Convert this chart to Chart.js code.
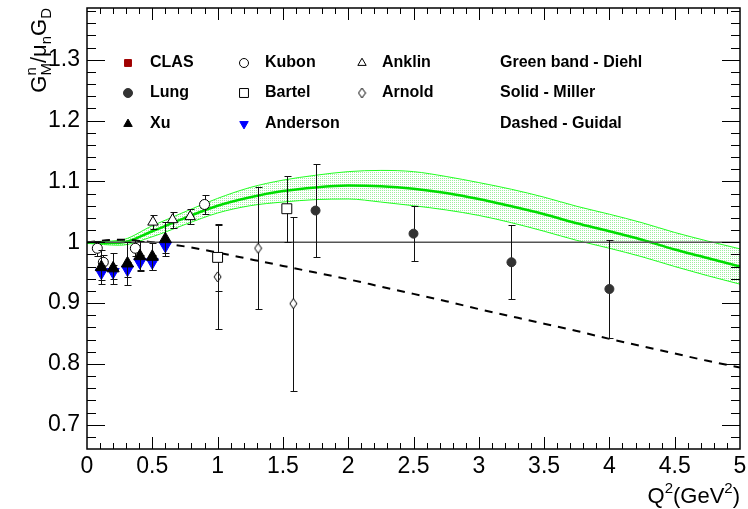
<!DOCTYPE html>
<html>
<head>
<meta charset="utf-8">
<script src="https://cdn.jsdelivr.net/npm/chart.js@4.4.0/dist/chart.umd.min.js"></script>
<style>
  html, body { margin: 0; padding: 0; background: #fff; }
  #wrap { width: 748px; height: 509px; }
</style>
</head>
<body>
<div id="wrap"><canvas id="grafico" width="748" height="509"></canvas></div>
<script>
const FONT = "'Liberation Sans', Arial, Helvetica, sans-serif";

// tick labels
const xTicks = [0, 0.5, 1, 1.5, 2, 2.5, 3, 3.5, 4, 4.5, 5];
const yTicks = [0.7, 0.8, 0.9, 1.0, 1.1, 1.2, 1.3];

// theory curves
const curveQ2   = [0, 0.25, 0.5, 0.75, 1, 1.25, 1.5, 1.75, 2, 2.25, 2.5, 2.75, 3, 3.25, 3.5, 3.75, 4, 4.25, 4.5, 4.75, 5];
const millerG   = [1.000, 0.999, 1.018, 1.040, 1.060, 1.074, 1.084, 1.090, 1.093, 1.092, 1.088, 1.081, 1.071, 1.059, 1.046, 1.031, 1.018, 1.004, 0.988, 0.974, 0.960];
const diehlHigh = [1.001, 1.003, 1.027, 1.050, 1.072, 1.090, 1.102, 1.110, 1.116, 1.118, 1.116, 1.108, 1.098, 1.087, 1.074, 1.059, 1.046, 1.032, 1.016, 1.002, 0.989];
const diehlLow  = [0.998, 0.995, 1.009, 1.029, 1.048, 1.060, 1.066, 1.070, 1.071, 1.066, 1.060, 1.053, 1.044, 1.032, 1.018, 1.003, 0.990, 0.976, 0.960, 0.945, 0.931];
const guidalG   = [1.000, 1.004, 1.000, 0.993, 0.983, 0.972, 0.961, 0.950, 0.939, 0.927, 0.915, 0.903, 0.890, 0.878, 0.866, 0.854, 0.841, 0.829, 0.817, 0.805, 0.794];
const refQ2 = [0, 5];
const refG  = [1, 1];

// measurements
const clasQ2 = [];
const clasG = [];
const clasErr = [];

const lungQ2  = [1.75, 2.5, 3.25, 4.0];
const lungG   = [1.052, 1.014, 0.967, 0.923];
const lungErr = [0.077, 0.045, 0.061, 0.081];

const xuQ2  = [0.11, 0.2, 0.31, 0.405, 0.5, 0.6];
const xuG   = [0.959, 0.957, 0.965, 0.977, 0.976, 1.005];
const xuErr = [0.028, 0.026, 0.035, 0.025, 0.022, 0.028];

const kubonQ2  = [0.079, 0.125, 0.37, 0.9];
const kubonG   = [0.990, 0.967, 0.990, 1.062];
const kubonErr = [0.012, 0.012, 0.013, 0.016];

const bartelQ2  = [1.0, 1.53];
const bartelG   = [0.975, 1.055];
const bartelErr = [0.055, 0.054];

const andersonQ2  = [0.11, 0.2, 0.31, 0.405, 0.5, 0.6];
const andersonG   = [0.950, 0.951, 0.955, 0.967, 0.967, 0.994];
const andersonErr = [0.012, 0.012, 0.012, 0.012, 0.012, 0.012];

const anklinQ2  = [0.505, 0.655, 0.79];
const anklinG   = [1.033, 1.037, 1.042];
const anklinErr = [0.011, 0.013, 0.012];

const arnoldQ2  = [1.0, 1.31, 1.58];
const arnoldG   = [0.943, 0.990, 0.899];
const arnoldErr = [0.086, 0.100, 0.143];

const pts = (xs, ys) => xs.map((x, i) => ({ x: x, y: ys[i] }));

function diamondMark(w, h) {
    const c = document.createElement('canvas');
    c.width = w + 2;
    c.height = h + 2;
    const g = c.getContext('2d');
    g.beginPath();
    g.moveTo(c.width / 2, 1);
    g.lineTo(c.width - 1, c.height / 2);
    g.lineTo(c.width / 2, c.height - 1);
    g.lineTo(1, c.height / 2);
    g.closePath();
    g.fillStyle = '#fff';
    g.fill();
    g.strokeStyle = '#000';
    g.lineWidth = 1;
    g.stroke();
    return c;
}

// dotted fill for the Diehl band
function dotPattern() {
    const c = document.createElement('canvas');
    c.width = 2;
    c.height = 2;
    const g = c.getContext('2d');
    g.fillStyle = 'rgba(0, 210, 0, 0.38)';
    g.fillRect(0, 0, 1, 1);
    return g.createPattern(c, 'repeat');
}

function markerSet(label, xs, ys, errs, style) {
    return Object.assign({
        label: label,
        data: pts(xs, ys),
        errors: errs,
        showLine: false,
        pointBorderWidth: 1
    }, style);
}

const sXu       = { pointStyle: 'triangle', pointRadius: 7, pointBackgroundColor: '#000', pointBorderColor: '#000' };
const sAnderson = { pointStyle: 'triangle', pointRotation: 180, pointRadius: 7, pointBackgroundColor: '#0000ff', pointBorderColor: '#0000ff' };
const sLung     = { pointStyle: 'circle', pointRadius: 4.5, pointBackgroundColor: '#333', pointBorderColor: '#333' };
const sKubon    = { pointStyle: 'circle', pointRadius: 5, pointBackgroundColor: '#fff', pointBorderColor: '#000' };
const sBartel   = { pointStyle: 'rect', pointRadius: 7, pointBackgroundColor: '#fff', pointBorderColor: '#000' };
const sAnklin   = { pointStyle: 'triangle', pointRadius: 6, pointBackgroundColor: '#fff', pointBorderColor: '#000' };
const sArnold   = { pointStyle: diamondMark(7, 10), pointRadius: 5, pointBackgroundColor: '#fff', pointBorderColor: '#000' };
const sClas     = { pointStyle: 'rect', pointRadius: 6.5, pointBackgroundColor: '#a00000', pointBorderColor: '#a00000' };

// error bars under each marker set
const errorBars = {
    id: 'errorBars',
    beforeDatasetDraw(chart, args) {
        const ds = chart.data.datasets[args.index];
        if (!ds.errors || !ds.errors.length) return;
        const { ctx, chartArea } = chart;
        const sx = chart.scales.x, sy = chart.scales.y;
        ctx.save();
        ctx.beginPath();
        ctx.rect(chartArea.left, chartArea.top, chartArea.right - chartArea.left, chartArea.bottom - chartArea.top);
        ctx.clip();
        ctx.strokeStyle = '#111';
        ctx.lineWidth = 1;
        ds.data.forEach((p, i) => {
            const e = ds.errors[i];
            const px = Math.round(sx.getPixelForValue(p.x)) + 0.5;
            const y1 = Math.round(sy.getPixelForValue(p.y + e)) + 0.5;
            const y2 = Math.round(sy.getPixelForValue(p.y - e)) + 0.5;
            ctx.beginPath();
            ctx.moveTo(px, y1); ctx.lineTo(px, y2);
            ctx.moveTo(px - 3, y1); ctx.lineTo(px + 4, y1);
            ctx.moveTo(px - 3, y2); ctx.lineTo(px + 4, y2);
            ctx.stroke();
        });
        ctx.restore();
    }
};

// frame with inside ticks on all four sides
const frame = {
    id: 'frame',
    afterDatasetsDraw(chart) {
        const { ctx, chartArea: a } = chart;
        const sx = chart.scales.x, sy = chart.scales.y;
        ctx.save();
        ctx.strokeStyle = '#000';
        ctx.lineWidth = 1;
        ctx.beginPath();
        for (let i = 1; i < 50; i++) {
            const v = i / 10;
            const px = Math.round(sx.getPixelForValue(v)) + 0.5;
            const len = (i % 5 === 0) ? 12 : 6;
            ctx.moveTo(px, a.bottom); ctx.lineTo(px, a.bottom - len);
            ctx.moveTo(px, a.top); ctx.lineTo(px, a.top + len);
        }
        for (let i = 34; i <= 69; i++) {
            const v = i / 50;
            const py = Math.round(sy.getPixelForValue(v)) + 0.5;
            if (py <= a.top + 1 || py >= a.bottom - 1) continue;
            const len = (i % 5 === 0) ? 18 : 9;
            ctx.moveTo(a.left, py); ctx.lineTo(a.left + len, py);
            ctx.moveTo(a.right, py); ctx.lineTo(a.right - len, py);
        }
        ctx.stroke();
        ctx.lineWidth = 1.5;
        ctx.strokeRect(a.left, a.top, a.right - a.left, a.bottom - a.top);
        ctx.restore();
    }
};

function drawPieces(ctx, pieces, measureOnly) {
    let x = 0;
    pieces.forEach(p => {
        if (p.stack) {
            let w = 0;
            p.stack.forEach(q => {
                ctx.font = q.size + 'px ' + FONT;
                if (!measureOnly) ctx.fillText(q.t, x, q.dy);
                w = Math.max(w, ctx.measureText(q.t).width);
            });
            x += w;
        } else {
            ctx.font = p.size + 'px ' + FONT;
            if (!measureOnly) ctx.fillText(p.t, x, p.dy || 0);
            x += ctx.measureText(p.t).width;
        }
    });
    return x;
}

const titles = {
    id: 'titles',
    afterDraw(chart) {
        const ctx = chart.ctx;
        const a = chart.chartArea;
        ctx.save();
        ctx.fillStyle = '#000';
        ctx.textBaseline = 'alphabetic';
        ctx.textAlign = 'left';

        const yPieces = [
            { t: 'G', size: 22 },
            { stack: [{ t: 'n', size: 15, dy: -10 }, { t: 'M', size: 15, dy: 5 }] },
            { t: '/', size: 22 },
            { t: 'μ', size: 22 },
            { t: 'n', size: 15, dy: 5 },
            { t: 'G', size: 22 },
            { t: 'D', size: 15, dy: 5 }
        ];
        const wy = drawPieces(ctx, yPieces, true);
        ctx.save();
        ctx.translate(46, a.top + wy);
        ctx.rotate(-Math.PI / 2);
        drawPieces(ctx, yPieces, false);
        ctx.restore();

        const xPieces = [
            { t: 'Q', size: 22 },
            { t: '2', size: 15, dy: -10 },
            { t: '(GeV', size: 22 },
            { t: '2', size: 15, dy: -10 },
            { t: ')', size: 22 }
        ];
        const wx = drawPieces(ctx, xPieces, true);
        ctx.save();
        ctx.translate(a.right - wx, 503);
        drawPieces(ctx, xPieces, false);
        ctx.restore();
        ctx.restore();
    }
};

// legend box drawn as a grid of labels
const legendCols = [
    { mx: 128, tx: 150, items: [['CLAS', sClas, 0.75], ['Lung', sLung, 1], ['Xu', sXu, 0.7]] },
    { mx: 244, tx: 265, items: [['Kubon', sKubon, 0.9], ['Bartel', sBartel, 0.9], ['Anderson', sAnderson, 0.7]] },
    { mx: 362, tx: 382, items: [['Anklin', sAnklin, 0.8], ['Arnold', sArnold, 1]] },
    { mx: null, tx: 500, items: [['Green band - Diehl'], ['Solid - Miller'], ['Dashed - Guidal']] }
];
const legendRows = [63, 93, 124];

const legendBox = {
    id: 'legendBox',
    afterDraw(chart) {
        const ctx = chart.ctx;
        ctx.save();
        ctx.font = 'bold 16px ' + FONT;
        ctx.textBaseline = 'middle';
        ctx.textAlign = 'left';
        legendCols.forEach(col => {
            col.items.forEach((it, r) => {
                const y = legendRows[r];
                ctx.fillStyle = '#000';
                ctx.fillText(it[0], col.tx, y);
                const s = it[1];
                if (!s) return;
                ctx.save();
                ctx.fillStyle = s.pointBackgroundColor;
                ctx.strokeStyle = s.pointBorderColor;
                ctx.lineWidth = 1;
                const opts = { pointStyle: s.pointStyle, rotation: s.pointRotation || 0, radius: s.pointRadius * it[2], borderWidth: 1 };
                if (Chart.helpers && Chart.helpers.drawPoint) {
                    Chart.helpers.drawPoint(ctx, opts, col.mx, y);
                }
                ctx.restore();
            });
        });
        ctx.restore();
    }
};

const ctx = document.getElementById('grafico').getContext('2d');

const chart = new Chart(ctx, {
    type: 'scatter',
    data: {
        datasets: [
            markerSet('Xu', xuQ2, xuG, xuErr, sXu),
            markerSet('Anderson', andersonQ2, andersonG, andersonErr, sAnderson),
            markerSet('Lung', lungQ2, lungG, lungErr, sLung),
            markerSet('Kubon', kubonQ2, kubonG, kubonErr, sKubon),
            markerSet('Bartel', bartelQ2, bartelG, bartelErr, sBartel),
            markerSet('Anklin', anklinQ2, anklinG, anklinErr, sAnklin),
            markerSet('Arnold', arnoldQ2, arnoldG, arnoldErr, sArnold),
            markerSet('CLAS', clasQ2, clasG, clasErr, sClas),
            {
                label: 'unity',
                data: pts(refQ2, refG),
                showLine: true,
                borderColor: '#555',
                borderWidth: 1.5,
                pointRadius: 0
            },
            {
                label: 'Guidal',
                data: pts(curveQ2, guidalG),
                showLine: true,
                borderColor: '#000',
                borderWidth: 2,
                borderDash: [8, 7],
                pointRadius: 0,
                cubicInterpolationMode: 'monotone'
            },
            {
                label: 'Miller',
                data: pts(curveQ2, millerG),
                showLine: true,
                borderColor: '#00dd00',
                borderWidth: 2.5,
                pointRadius: 0,
                cubicInterpolationMode: 'monotone'
            },
            {
                label: 'Diehl high',
                data: pts(curveQ2, diehlHigh),
                showLine: true,
                borderColor: '#22ff22',
                borderWidth: 1,
                pointRadius: 0,
                backgroundColor: dotPattern(),
                fill: '+1',
                cubicInterpolationMode: 'monotone'
            },
            {
                label: 'Diehl low',
                data: pts(curveQ2, diehlLow),
                showLine: true,
                borderColor: '#22ff22',
                borderWidth: 1,
                pointRadius: 0,
                cubicInterpolationMode: 'monotone'
            }
        ]
    },
    options: {
        responsive: false,
        animation: false,
        events: [],
        layout: { padding: { top: 4, right: 7, left: 0, bottom: 0 } },
        scales: {
            x: {
                type: 'linear',
                min: 0,
                max: 5,
                afterBuildTicks: s => { s.ticks = xTicks.map(v => ({ value: v })); },
                afterFit: s => { s.height = 60; s.paddingLeft = 0; s.paddingRight = 0; },
                grid: { display: false, drawTicks: false },
                border: { display: false },
                ticks: {
                    padding: 4,
                    maxRotation: 0,
                    autoSkip: false,
                    color: '#000',
                    font: { family: FONT, size: 23 },
                    callback: v => String(Number(v.toFixed(1)))
                }
            },
            y: {
                type: 'linear',
                min: 0.66,
                max: 1.385,
                afterBuildTicks: s => { s.ticks = yTicks.map(v => ({ value: v })); },
                afterFit: s => { s.width = 87; s.paddingTop = 0; s.paddingBottom = 0; },
                grid: { display: false, drawTicks: false },
                border: { display: false },
                ticks: {
                    padding: 7,
                    autoSkip: false,
                    color: '#000',
                    font: { family: FONT, size: 23 },
                    callback: v => String(Number(v.toFixed(1)))
                }
            }
        },
        plugins: {
            legend: { display: false },
            tooltip: { enabled: false }
        }
    },
    plugins: [errorBars, frame, titles, legendBox]
});
</script>
</body>
</html>
